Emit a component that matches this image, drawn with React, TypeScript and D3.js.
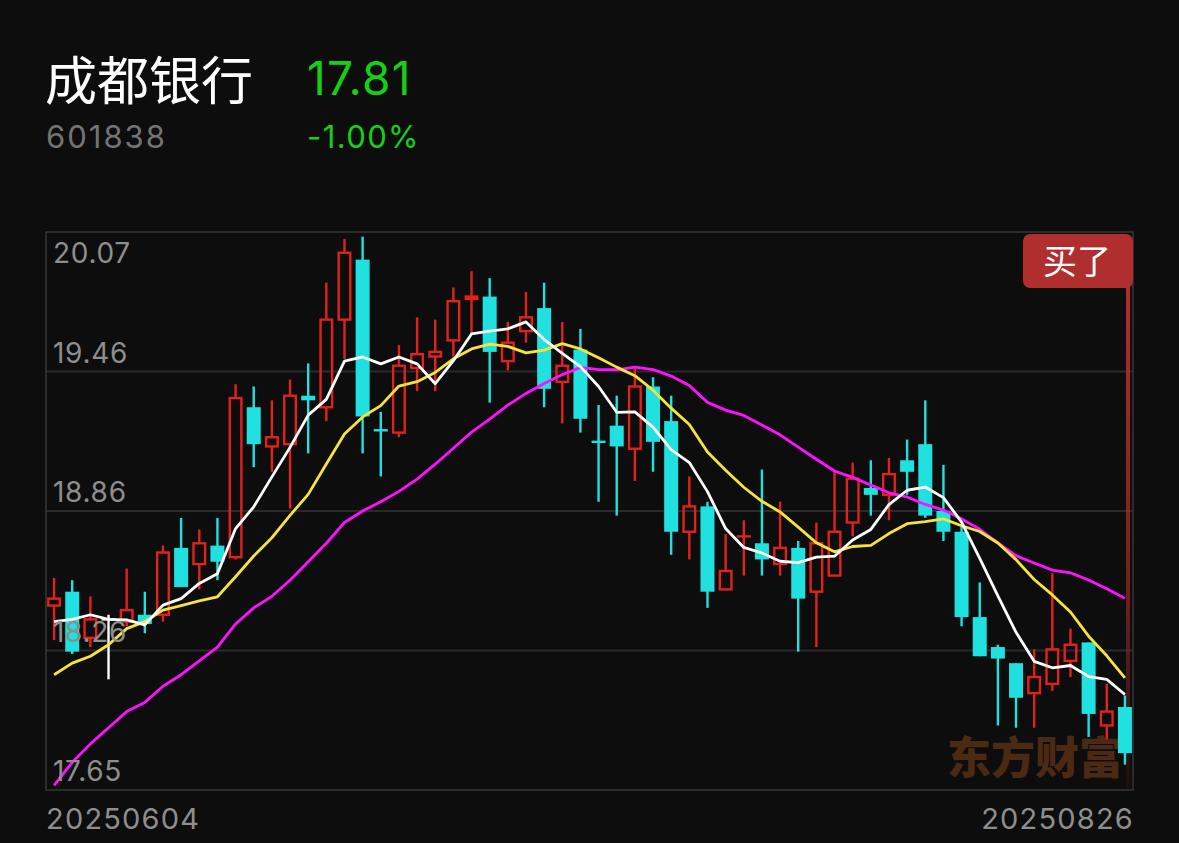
import React, { useEffect } from 'react';
import * as d3 from 'd3';

// ---- data ----
const stockName = '成都银行';
const stockCode = '601838';
const lastPrice = '17.81';
const changePct = '-1.00%';
const firstDate = '20250604';
const lastDate = '20250826';
const badgeText = '买了';
const watermark = '东方财富';

const opens = [18.45, 18.51, 18.31, 18.39, 18.38, 18.41, 18.41, 18.70, 18.63, 18.71,
  18.66, 19.31, 19.14, 19.15, 19.36, 19.31, 19.69, 19.95, 19.21, 19.20,
  19.48, 19.53, 19.60, 19.78, 19.79, 19.51, 19.64, 19.74, 19.42, 19.56,
  19.16, 19.23, 19.13, 19.40, 19.25, 18.77, 18.88, 18.52, 18.75, 18.72,
  18.63, 18.70, 18.51, 18.58, 18.81, 18.96, 18.93, 19.08, 19.15, 18.86,
  18.77, 18.40, 18.27, 18.20, 18.07, 18.11, 18.21, 18.29, 17.93, 18.01];
const highs = [18.57, 18.56, 18.49, 18.41, 18.61, 18.51, 18.71, 18.83, 18.78, 18.83,
  19.41, 19.40, 19.34, 19.43, 19.50, 19.85, 20.04, 20.05, 19.29, 19.58,
  19.70, 19.69, 19.83, 19.90, 19.87, 19.68, 19.81, 19.85, 19.68, 19.65,
  19.32, 19.36, 19.48, 19.44, 19.36, 19.01, 18.90, 18.76, 18.82, 19.04,
  18.90, 18.73, 18.81, 19.03, 19.07, 19.08, 19.09, 19.17, 19.34, 19.06,
  18.80, 18.55, 18.28, 18.20, 18.26, 18.59, 18.35, 18.29, 18.11, 18.06];
const lows = [18.30, 18.24, 18.27, 18.13, 18.36, 18.33, 18.38, 18.53, 18.52, 18.56,
  18.65, 19.05, 19.03, 18.87, 19.11, 19.25, 19.52, 19.11, 19.01, 19.18,
  19.38, 19.38, 19.53, 19.63, 19.33, 19.47, 19.59, 19.31, 19.24, 19.20,
  18.90, 18.84, 18.99, 19.03, 18.67, 18.65, 18.44, 18.52, 18.58, 18.58,
  18.58, 18.25, 18.27, 18.58, 18.75, 18.84, 18.82, 18.93, 18.83, 18.73,
  18.36, 18.23, 17.93, 17.92, 17.92, 18.08, 18.14, 17.88, 17.87, 17.76];
const closes = [18.48, 18.25, 18.39, 18.39, 18.43, 18.37, 18.68, 18.53, 18.72, 18.64,
  19.35, 19.15, 19.18, 19.36, 19.34, 19.69, 19.98, 19.27, 19.21, 19.49,
  19.54, 19.55, 19.77, 19.79, 19.55, 19.59, 19.70, 19.39, 19.49, 19.26,
  19.16, 19.14, 19.40, 19.16, 18.77, 18.88, 18.51, 18.60, 18.75, 18.65,
  18.70, 18.48, 18.72, 18.77, 19.00, 18.93, 19.02, 19.03, 18.84, 18.77,
  18.40, 18.23, 18.22, 18.05, 18.14, 18.26, 18.28, 17.98, 17.99, 17.81];

const ma5Lead = [18.38, 18.39, 18.41, 18.39];
const ma10Lead = [18.15, 18.20, 18.23, 18.28, 18.35, 18.38, 18.43, 18.45, 18.47];
const ma20Lead = [17.67, 17.77, 17.85, 17.92, 17.99, 18.03, 18.10, 18.15, 18.21, 18.27,
  18.37, 18.44, 18.49, 18.56, 18.64, 18.72, 18.81, 18.86, 18.90];

const priceTicks = [20.07, 19.465, 18.86, 18.255, 17.65];
const priceTickLabels = ['20.07', '19.46', '18.86', '18.26', '17.65'];

const RED = '#e0221d';
const CYAN = '#20e0e0';
const GREEN = '#16d016';
const NUM_FONT = 'Inter, Roboto, "Noto Sans", sans-serif';
const CJK_FONT = '"Noto Sans CJK SC", "Noto Sans", sans-serif';

function movingAverage(n: number, lead: number[]) {
  return closes.map((_, i) => (i < n - 1 ? lead[i] : d3.mean(closes.slice(i - n + 1, i + 1)) as number));
}

export default function App() {
  useEffect(() => {
    document.body.style.margin = '0';
    document.body.style.background = '#0d0d0d';
  }, []);

  const W = 1179, H = 843;
  const left = 46, right = 1133, top = 232, bottom = 790;

  const idx = d3.range(closes.length);
  const x = d3.scaleBand<number>().domain(idx).range([45, 1134]).paddingInner(0).paddingOuter(0);
  const cx = (i: number) => (x(i) as number) + x.bandwidth() / 2;
  const y = d3.scaleLinear().domain([17.65, 20.07]).range([bottom, top]);

  const ma5 = movingAverage(5, ma5Lead);
  const ma10 = movingAverage(10, ma10Lead);
  const ma20 = movingAverage(20, ma20Lead);
  const line = d3.line<number>().x((_, i) => cx(i)).y((d) => y(d));

  const bodyW = 14;

  const colorOf = (i: number) => {
    const o = opens[i], c = closes[i];
    if (c > o) return RED;
    if (c < o) return CYAN;
    const prev = i > 0 ? closes[i - 1] : c;
    if (c > prev) return RED;
    if (c < prev) return CYAN;
    return '#ffffff';
  };

  return (
    <div style={{ width: W, height: H, background: '#0d0d0d', position: 'relative' }}>
      <svg width={W} height={H} style={{ display: 'block' }}>
        <defs>
          <linearGradient id="buyLine" x1="0" y1="0" x2="0" y2="1">
            <stop offset="0%" stopColor="#b52d2d" stopOpacity={1} />
            <stop offset="60%" stopColor="#b52d2d" stopOpacity={0.6} />
            <stop offset="100%" stopColor="#b52d2d" stopOpacity={0.08} />
          </linearGradient>
        </defs>
        <rect x={0} y={0} width={W} height={H} fill="#0d0d0d" />

        {/* header */}
        <text x={45} y={100} fill="#ffffff" fontSize={52} fontFamily={CJK_FONT}>{stockName}</text>
        <text x={307} y={95} fill={GREEN} fontSize={46} letterSpacing={1.3} fontFamily={NUM_FONT}>{lastPrice}</text>
        <text x={46} y={148} fill="#747474" fontSize={31} letterSpacing={2} fontFamily={NUM_FONT}>{stockCode}</text>
        <text x={307} y={148} fill={GREEN} fontSize={31} letterSpacing={1.4} fontFamily={NUM_FONT}>{changePct}</text>

        {/* gridlines */}
        {priceTicks.slice(1, -1).map((t) => (
          <line key={t} x1={left} x2={right} y1={y(t)} y2={y(t)} stroke="#2a2a2a" strokeWidth={2} />
        ))}
        <rect x={left} y={top} width={right - left} height={bottom - top} fill="none" stroke="#363636" strokeWidth={1.5} />

        {/* watermark */}
        <text x={947} y={774} fill="#4b2913" fontSize={44} fontWeight={900} fontFamily={CJK_FONT}>{watermark}</text>

        {/* buy marker line */}
        <rect x={1126} y={286} width={4} height={bottom - 286} fill="url(#buyLine)" />

        {/* candles */}
        {idx.map((i) => {
          const col = colorOf(i);
          const o = opens[i], c = closes[i];
          const c0 = cx(i);
          const yTop = y(Math.max(o, c));
          const yBot = y(Math.min(o, c));
          const up = c > o;
          const hBody = Math.max(yBot - yTop, 2);
          return (
            <g key={i}>
              {up ? (
                <>
                  <line x1={c0} x2={c0} y1={y(highs[i])} y2={yTop} stroke={col} strokeWidth={2.4} />
                  <line x1={c0} x2={c0} y1={yBot} y2={y(lows[i])} stroke={col} strokeWidth={2.4} />
                  <rect x={c0 - bodyW / 2 + 1.2} y={yTop} width={bodyW - 2.4} height={Math.max(yBot - yTop, 1)} fill="none" stroke={col} strokeWidth={2.4} />
                </>
              ) : (
                <>
                  <line x1={c0} x2={c0} y1={y(highs[i])} y2={y(lows[i])} stroke={col} strokeWidth={2.4} />
                  <rect x={c0 - bodyW / 2} y={c === o ? yTop - 1.2 : yTop} width={bodyW} height={c === o ? 2.4 : hBody} fill={col} />
                </>
              )}
            </g>
          );
        })}

        {/* moving averages */}
        <path d={line(ma20) as string} fill="none" stroke="#ff10ff" strokeWidth={2.8} strokeLinejoin="round" />
        <path d={line(ma10) as string} fill="none" stroke="#f7e43a" strokeWidth={2.8} strokeLinejoin="round" />
        <path d={line(ma5) as string} fill="none" stroke="#ffffff" strokeWidth={2.8} strokeLinejoin="round" />

        {/* price labels */}
        {priceTicks.map((t, k) => (
          <text key={t} x={53} y={k === 0 ? y(t) + 31 : y(t) - 9} fill="#8e8e8e" fontSize={28} letterSpacing={0.7} fontFamily={NUM_FONT}>
            {priceTickLabels[k]}
          </text>
        ))}

        {/* badge */}
        <rect x={1023} y={234} width={110} height={54} rx={7} fill="#b12e2e" />
        <text x={1077} y={274} fill="#ffffff" fontSize={34} textAnchor="middle" fontFamily={CJK_FONT}>{badgeText}</text>

        {/* date labels */}
        <text x={46} y={829} fill="#8e8e8e" fontSize={29} letterSpacing={1.2} fontFamily={NUM_FONT}>{firstDate}</text>
        <text x={1134} y={829} fill="#8e8e8e" fontSize={29} letterSpacing={1.2} textAnchor="end" fontFamily={NUM_FONT}>{lastDate}</text>
      </svg>
    </div>
  );
}
